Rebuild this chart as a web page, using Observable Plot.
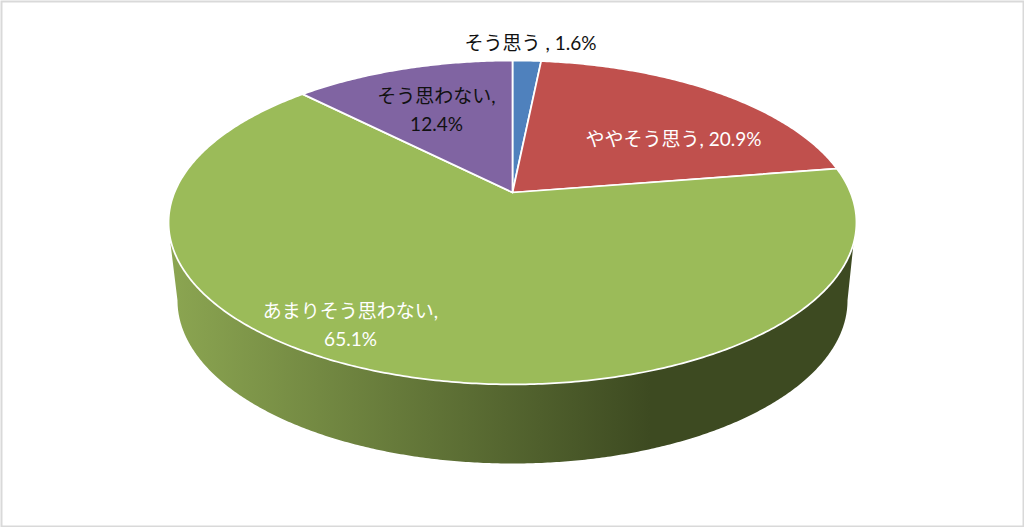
<!DOCTYPE html>
<html lang="ja">
<head>
<meta charset="utf-8">
<script src="https://cdn.jsdelivr.net/npm/d3@7"></script>
<script src="https://cdn.jsdelivr.net/npm/@observablehq/plot@0.6"></script>
<style>
html,body{margin:0;padding:0;background:#fff;overflow:hidden}
svg{display:block}
</style>
</head>
<body>
<div id="chart"></div>
<script>
const categories = ["そう思う", "ややそう思う", "あまりそう思わない", "そう思わない"];
const shares = [1.6, 20.9, 65.1, 12.4];
const separators = [" , ", ", ", ",\n", ",\n"];

const sliceColors = ["#4f81bd", "#c0504d", "#9bbb59", "#8064a2"];
const labelColors = ["#111111", "#ffffff", "#ffffff", "#111111"];
const labelX = [530, 673, 350, 436];
const labelY = [41, 137, 323, 108];

// Tilted-disc geometry of the 3-D pie (screen units).
const W = 1024, H = 527;
const cx = 512, apexY = 192, a = 338, b = 156.4, k = 0.185;
const project = (t) => {
  const d = 1 + k * Math.cos(t);
  return [cx + a * Math.sin(t) / d, apexY - b * Math.cos(t) / d];
};
const baseRx = 335, baseRy = 163, baseCy = 300;

const arcs = d3.pie().sort(null).value(d => d).startAngle(0).endAngle(2 * Math.PI)(shares);

const slicePoints = arcs.flatMap((arc, i) => {
  const n = Math.max(2, Math.ceil((arc.endAngle - arc.startAngle) / 0.01));
  const pts = [[cx, apexY]];
  for (let j = 0; j <= n; j++) pts.push(project(arc.startAngle + (arc.endAngle - arc.startAngle) * j / n));
  pts.push([cx, apexY]);
  return pts.map(([x, y]) => ({x, y, category: categories[i]}));
});

const wallPoints = [];
wallPoints.push({x: 170, y: 243});
for (let j = 0; j <= 360; j++) {
  const t = Math.PI * j / 360;
  wallPoints.push({x: cx - baseRx * Math.cos(t), y: baseCy + baseRy * Math.sin(t)});
}
wallPoints.push({x: 853, y: 243});

const labels = categories.map((c, i) => ({
  text: `${c}${separators[i]}${shares[i]}%`,
  x: labelX[i], y: labelY[i], color: labelColors[i]
}));

const svg = Plot.plot({
  width: W, height: H,
  margin: 0,
  style: {background: "#ffffff"},
  x: {domain: [0, W], range: [0, W], axis: null},
  y: {domain: [0, H], range: [0, H], axis: null},
  color: {type: "ordinal", domain: categories, range: sliceColors},
  marks: [
    Plot.line(wallPoints, {x: "x", y: "y", fill: "url(#wallShade)", stroke: "none"}),
    Plot.line(slicePoints, {x: "x", y: "y", z: "category", fill: "category", stroke: "#ffffff", strokeWidth: 1.75, strokeLinejoin: "round"}),
    Plot.text(labels, {x: "x", y: "y", text: "text", fill: "color", lineHeight: 1.47, fontSize: 19,
      fontFamily: "Lato, 'Noto Sans CJK JP', sans-serif"}),
    Plot.frame({stroke: "#d9d9d9", strokeWidth: 2, inset: 1})
  ]
});

svg.insertAdjacentHTML("afterbegin", `<defs><linearGradient id="wallShade" gradientUnits="userSpaceOnUse" x1="172" y1="0" x2="650" y2="0"><stop offset="0" stop-color="#8ba551"/><stop offset="1" stop-color="#3d4a21"/></linearGradient></defs>`);
document.getElementById("chart").appendChild(svg);
</script>
</body>
</html>
